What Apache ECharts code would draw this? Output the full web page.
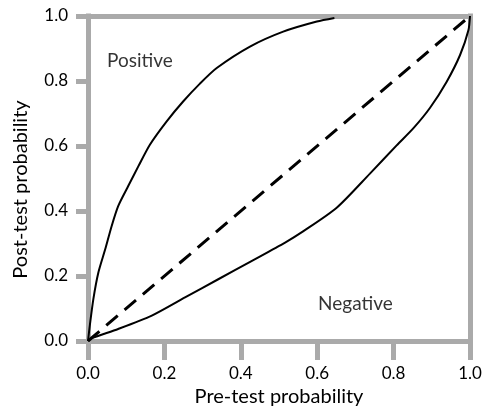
<!DOCTYPE html>
<html>
<head>
<meta charset="utf-8">
<script src="https://cdn.jsdelivr.net/npm/echarts@6/dist/echarts.min.js"></script>
<style>
html,body{margin:0;padding:0;background:#fff;}
#chart{width:485px;height:412px;}
</style>
</head>
<body>
<div id="chart"></div>
<script>
// Tick values
var xTicks = [0, 0.2, 0.4, 0.6, 0.8, 1.0];
var yTicks = [0, 0.2, 0.4, 0.6, 0.8, 1.0];

// Positive test curve
var posX = [0, 0.005, 0.014, 0.027, 0.045, 0.062, 0.079, 0.105, 0.132, 0.162, 0.206, 0.249, 0.293, 0.337, 0.424, 0.511, 0.599, 0.645];
var posY = [0, 0.050, 0.129, 0.210, 0.282, 0.354, 0.415, 0.476, 0.538, 0.604, 0.676, 0.737, 0.792, 0.840, 0.906, 0.952, 0.983, 0.994];

// Negative test curve
var negX = [0, 0.010, 0.079, 0.167, 0.254, 0.341, 0.428, 0.516, 0.564, 0.651, 0.738, 0.808, 0.852, 0.895, 0.939, 0.974, 0.996, 1.0];
var negY = [0, 0.009, 0.037, 0.078, 0.134, 0.190, 0.246, 0.303, 0.338, 0.410, 0.515, 0.602, 0.655, 0.717, 0.798, 0.880, 0.957, 1.0];

// Reference diagonal
var diagX = [0, 1];
var diagY = [0, 1];

// Text labels
var noteText = ['Positive', 'Negative'];
var noteX = [0.136, 0.70];
var noteY = [0.862, 0.113];

function pairs(xs, ys) { return xs.map(function (x, i) { return [x, ys[i]]; }); }

var FONT = 'Lato';
var GRAY = '#aaaaaa';
var INK = '#000000';
var chart = echarts.init(document.getElementById('chart'), null, { renderer: 'canvas' });

chart.setOption({
  animation: false,
  backgroundColor: '#ffffff',
  grid: { left: 88, right: 15, top: 16, bottom: 70 },
  xAxis: [{
    type: 'value', min: 0, max: 1, interval: 0.2, position: 'bottom',
    name: 'Pre-test probability', nameLocation: 'middle', nameGap: 46,
    nameTextStyle: { fontFamily: FONT, fontSize: 20, color: INK },
    axisLine: { show: true, onZero: false, lineStyle: { color: GRAY, width: 5, cap: 'square' } },
    axisTick: { show: true, inside: false, length: 19, lineStyle: { color: GRAY, width: 5 } },
    axisLabel: { margin: 24, fontFamily: FONT, fontSize: 17, color: INK, formatter: function (v) { return v.toFixed(1); } },
    splitLine: { show: false }
  }, {
    type: 'value', min: 0, max: 1, position: 'top',
    axisLine: { show: true, onZero: false, lineStyle: { color: GRAY, width: 5, cap: 'square' } },
    axisTick: { show: false }, axisLabel: { show: false }, splitLine: { show: false }
  }],
  yAxis: [{
    type: 'value', min: 0, max: 1, interval: 0.2, position: 'left',
    name: 'Post-test probability', nameLocation: 'middle', nameGap: 57, nameRotate: 90,
    nameTextStyle: { fontFamily: FONT, fontSize: 20, color: INK, padding: [0, 22, 0, 0] },
    axisLine: { show: true, onZero: false, lineStyle: { color: GRAY, width: 5, cap: 'square' } },
    axisTick: { show: true, inside: false, length: 12, lineStyle: { color: GRAY, width: 5 } },
    axisLabel: { margin: 20, fontFamily: FONT, fontSize: 17, color: INK, formatter: function (v) { return v.toFixed(1); } },
    splitLine: { show: false }
  }, {
    type: 'value', min: 0, max: 1, position: 'right',
    axisLine: { show: true, onZero: false, lineStyle: { color: GRAY, width: 5, cap: 'square' } },
    axisTick: { show: false }, axisLabel: { show: false }, splitLine: { show: false }
  }],
  series: [{
    type: 'line', data: pairs(posX, posY), smooth: 0.25, showSymbol: false, clip: false,
    lineStyle: { color: '#000', width: 2 }
  }, {
    type: 'line', data: pairs(negX, negY), smooth: 0.25, showSymbol: false, clip: false,
    lineStyle: { color: '#000', width: 2 }
  }, {
    type: 'line', data: pairs(diagX, diagY), showSymbol: false,
    lineStyle: { color: '#000', width: 3, type: [15, 9] }
  }, {
    type: 'scatter', symbolSize: 0,
    data: noteText.map(function (t, i) { return { value: [noteX[i], noteY[i]], name: t }; }),
    label: { show: true, position: 'inside', formatter: '{b}', fontFamily: FONT, fontSize: 19, color: INK }
  }]
});
</script>
</body>
</html>
